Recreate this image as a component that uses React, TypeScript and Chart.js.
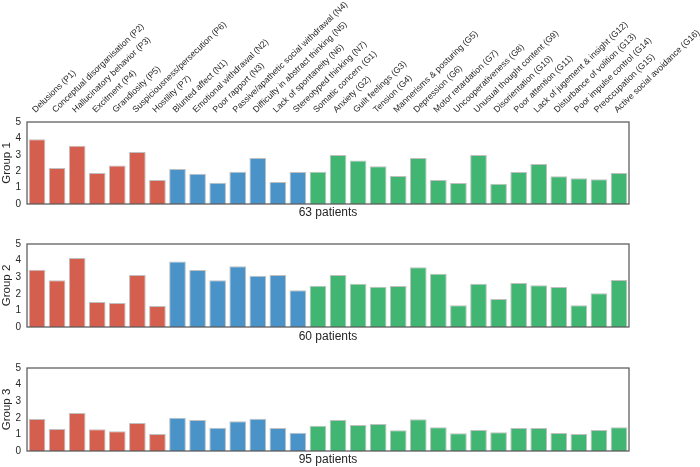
import React, { useEffect, useRef } from "react";
import { Chart, registerables } from "chart.js";

Chart.register(...registerables);

const items = [
  "Delusions (P1)",
  "Conceptual disorganisation (P2)",
  "Hallucinatory behavior (P3)",
  "Excitment (P4)",
  "Grandiosity (P5)",
  "Suspiciousness/persecution (P6)",
  "Hostility (P7)",
  "Blunted affect (N1)",
  "Emotional withdrawal (N2)",
  "Poor rapport (N3)",
  "Passive/apathetic social withdrawal (N4)",
  "Difficulty in abstract thinking (N5)",
  "Lack of spontaneity (N6)",
  "Stereotyped thinking (N7)",
  "Somatic concern (G1)",
  "Anxiety (G2)",
  "Guilt feelings (G3)",
  "Tension (G4)",
  "Mannerisms & posturing (G5)",
  "Depression (G6)",
  "Motor retardation (G7)",
  "Uncooperativeness (G8)",
  "Unusual thought content (G9)",
  "Disorientation (G10)",
  "Poor attention (G11)",
  "Lack of jugement & insight (G12)",
  "Disturbance of volition (G13)",
  "Poor impulse control (G14)",
  "Preoccupation (G15)",
  "Active social avoidance (G16)",
];

const itemScale = [
  "P", "P", "P", "P", "P", "P", "P",
  "N", "N", "N", "N", "N", "N", "N",
  "G", "G", "G", "G", "G", "G", "G", "G", "G", "G", "G", "G", "G", "G", "G", "G",
];

const group1 = [3.95, 2.2, 3.55, 1.89, 2.34, 3.17, 1.46, 2.13, 1.85, 1.3, 1.97, 2.8, 1.34, 1.95, 1.97, 2.99, 2.66, 2.3, 1.71, 2.8, 1.46, 1.28, 2.99, 1.24, 1.95, 2.44, 1.69, 1.57, 1.51, 1.89];
const group2 = [3.45, 2.81, 4.15, 1.5, 1.44, 3.13, 1.27, 3.94, 3.44, 2.81, 3.66, 3.09, 3.13, 2.22, 2.48, 3.13, 2.61, 2.42, 2.47, 3.6, 3.21, 1.31, 2.61, 1.68, 2.65, 2.51, 2.41, 1.31, 2.04, 2.83];
const group3 = [1.93, 1.33, 2.29, 1.31, 1.19, 1.69, 1.02, 2.01, 1.87, 1.4, 1.79, 1.95, 1.39, 1.1, 1.52, 1.87, 1.57, 1.63, 1.25, 1.91, 1.43, 1.07, 1.27, 1.13, 1.39, 1.39, 1.08, 1.02, 1.27, 1.43];

const groupTitles = ["Group 1", "Group 2", "Group 3"];
const patientLabels = ["63 patients", "60 patients", "95 patients"];
const yTicks = [0, 1, 2, 3, 4, 5];

const scaleColors: Record<string, string> = {
  P: "#d45f4f",
  N: "#4a93c9",
  G: "#41b572",
};

const FONT = "'Liberation Sans', Arial, sans-serif";
const TEXT = "#262626";

const framePlugin = {
  id: "frame",
  afterDatasetsDraw(chart: any) {
    const { ctx, chartArea } = chart;
    ctx.save();
    ctx.strokeStyle = "#5a5a5a";
    ctx.lineWidth = 1.25;
    ctx.strokeRect(chartArea.left, chartArea.top, chartArea.right - chartArea.left, chartArea.bottom - chartArea.top);
    ctx.restore();
  },
};

type PanelProps = {
  values: number[];
  yTitle: string;
  patients: string;
  showLabels: boolean;
  top: number;
  height: number;
  padTop: number;
  bottomAxisH: number;
};

function Panel({ values, yTitle, patients, showLabels, top, height, padTop, bottomAxisH }: PanelProps) {
  const ref = useRef<HTMLCanvasElement | null>(null);
  useEffect(() => {
    if (!ref.current) return;
    const colors = itemScale.map((s) => scaleColors[s]);
    const scales: any = {
      y: {
        min: 0,
        max: 5,
        afterBuildTicks: (s: any) => {
          s.ticks = yTicks.map((v) => ({ value: v }));
        },
        afterFit: (s: any) => {
          s.width = 27;
        },
        grid: { display: false, drawTicks: false },
        border: { display: false },
        ticks: { padding: 6, color: TEXT, font: { family: FONT, size: 10 } },
        title: {
          display: true,
          text: yTitle,
          color: TEXT,
          padding: { top: 0, bottom: 0 },
          font: { family: FONT, size: 11.5 },
        },
      },
      xb: {
        type: "category",
        position: "bottom",
        grid: { display: false, drawTicks: false },
        border: { display: false },
        ticks: { display: false },
        afterFit: (s: any) => {
          s.height = bottomAxisH;
          s.paddingLeft = 0;
          s.paddingRight = 0;
        },
        title: {
          display: true,
          text: patients,
          color: TEXT,
          padding: { top: 0, bottom: 0 },
          font: { family: FONT, size: 12 },
        },
      },
    };
    if (showLabels) {
      scales.x = {
        type: "category",
        position: "top",
        offset: true,
        grid: { display: false, drawTicks: false },
        border: { display: false },
        ticks: {
          autoSkip: false,
          minRotation: 44,
          maxRotation: 44,
          padding: 7,
          labelOffset: 4,
          color: TEXT,
          font: { family: FONT, size: 8.7 },
        },
        afterFit: (s: any) => {
          s.height = 122;
          s.paddingLeft = 0;
          s.paddingRight = 0;
        },
      };
    } else {
      scales.x = {
        type: "category",
        position: "bottom",
        offset: true,
        display: false,
      };
    }
    const chart = new Chart(ref.current, {
      type: "bar",
      data: {
        labels: items,
        datasets: [
          {
            data: values,
            backgroundColor: colors,
            borderColor: "rgba(140,140,140,0.55)",
            borderWidth: 1,
            barPercentage: 0.83,
            categoryPercentage: 1,
            xAxisID: "x",
            yAxisID: "y",
          },
        ],
      },
      options: {
        responsive: false,
        animation: false,
        devicePixelRatio: 1,
        layout: { padding: { left: 0, right: 71, top: padTop, bottom: 0 } },
        plugins: {
          legend: { display: false },
          tooltip: { enabled: false },
          title: { display: false },
        },
        scales,
      },
      plugins: [framePlugin],
    });
    return () => chart.destroy();
  }, []);
  return (
    <canvas
      ref={ref}
      width={700}
      height={height}
      style={{ position: "absolute", left: 0, top, width: 700, height }}
    />
  );
}

export default function App() {
  return (
    <div style={{ position: "fixed", left: 0, top: 0, width: 700, height: 467, background: "#fff", overflow: "hidden" }}>
      <Panel values={group1} yTitle={groupTitles[0]} patients={patientLabels[0]} showLabels={true} top={0} height={220} padTop={0} bottomAxisH={16} />
      <Panel values={group2} yTitle={groupTitles[1]} patients={patientLabels[1]} showLabels={false} top={224} height={120} padTop={20} bottomAxisH={17} />
      <Panel values={group3} yTitle={groupTitles[2]} patients={patientLabels[2]} showLabels={false} top={348} height={119} padTop={20} bottomAxisH={16} />
    </div>
  );
}
